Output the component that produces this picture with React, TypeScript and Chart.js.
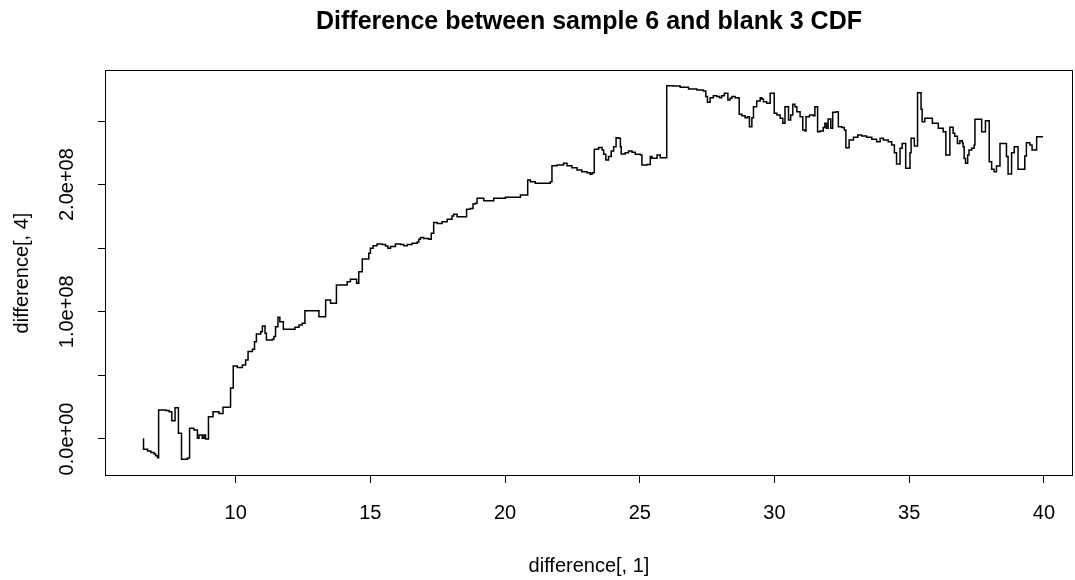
import React, { useEffect, useRef } from "react";
import { Chart, registerables } from "chart.js";

Chart.register(...registerables);

// x values (difference[, 1])
const xValues: number[] = [
  6.56, 6.58, 6.73, 6.85, 6.97, 7.03, 7.10, 7.14, 7.40, 7.53, 7.63, 7.75, 7.875, 7.99, 8.21, 8.29,
  8.45, 8.58, 8.64, 8.76, 8.82, 8.88, 8.99, 9.16, 9.38, 9.53, 9.81, 9.91, 10.06, 10.25, 10.37, 10.46,
  10.62, 10.70, 10.77, 10.93, 10.99, 11.09, 11.14, 11.36, 11.42, 11.48, 11.57, 11.64, 11.77, 12.20,
  12.35, 12.47, 12.57,
  13.09, 13.34, 13.52, 13.74, 14.14, 14.26, 14.49, 14.57, 14.70, 14.94, 15.0, 15.1, 15.25, 15.44,
  15.56, 15.65, 15.75, 15.93, 16.12, 16.24, 16.37, 16.55, 16.74, 16.80, 16.86, 16.98, 17.17, 17.26,
  17.35, 17.48, 17.66, 17.85, 18.03, 18.09, 18.22, 18.57, 18.71, 18.81, 18.90, 18.96, 19.08, 19.21,
  19.58, 20.01, 20.57, 20.84, 20.94, 21.12, 21.68, 21.74, 21.93, 22.17, 22.30, 22.48, 22.67, 22.85,
  23.04, 23.16, 23.23, 23.31, 23.47, 23.60, 23.66, 23.74, 23.84, 23.94, 24.03, 24.12, 24.21, 24.28,
  24.31, 24.46, 24.58, 24.71, 24.83, 25.02, 25.08, 25.27, 25.39, 25.45, 25.64, 25.76,
  26.0, 26.25, 26.50, 26.81, 27.12, 27.36, 27.45, 27.51, 27.61, 27.73, 27.86, 27.96, 28.04, 28.14,
  28.27, 28.35, 28.42, 28.54, 28.67, 28.69, 28.79, 28.91, 29.0, 29.07, 29.16, 29.22, 29.34, 29.47,
  29.53, 29.59, 29.71, 29.84, 29.99, 30.09, 30.21, 30.31, 30.39, 30.52, 30.60, 30.68, 30.76, 30.83,
  30.95, 31.05, 31.13, 31.17, 31.30, 31.44, 31.50, 31.60, 31.69, 31.81, 31.87, 31.93, 31.99, 32.09,
  32.16, 32.29, 32.37, 32.50, 32.59, 32.65,
  32.77, 32.93, 33.09, 33.24, 33.42, 33.61, 33.79, 33.92, 34.04, 34.22, 34.35, 34.45, 34.53, 34.66,
  34.74, 34.87, 35.03, 35.07, 35.19, 35.31, 35.44, 35.48, 35.58, 35.86, 36.08, 36.26, 36.36, 36.51,
  36.63, 36.69, 36.79, 36.88, 36.97, 37.0, 37.04, 37.09, 37.17, 37.22, 37.32, 37.41, 37.44, 37.69,
  37.83, 37.97, 38.06, 38.15, 38.24, 38.37, 38.61, 38.67, 38.80, 38.90, 39.04, 39.29, 39.35, 39.48,
  39.56, 39.73, 39.97,
];

// y values (difference[, 4]) in units of 1e8
const yValuesE8: number[] = [
  0.0, -0.081, -0.094, -0.107, -0.118, -0.131, -0.147, 0.228, 0.223, 0.215, 0.144, 0.246, 0.045, -0.16, -0.15, 0.084,
  0.07, 0.005, 0.031, 0.005, 0.031, 0.0, 0.175, 0.215, 0.20, 0.249, 0.40, 0.574, 0.563, 0.582, 0.621, 0.687,
  0.705, 0.765, 0.825, 0.844, 0.888, 0.831, 0.778, 0.784, 0.805, 0.883, 0.957, 0.922, 0.862, 0.878,
  0.896, 0.909, 1.009,
  0.962, 1.093, 1.067, 1.211, 1.237, 1.255, 1.224, 1.315, 1.415, 1.46, 1.499, 1.52, 1.533, 1.53,
  1.517, 1.499, 1.513, 1.533, 1.53, 1.52, 1.53, 1.538, 1.549, 1.57, 1.585, 1.577, 1.57, 1.617,
  1.703, 1.695, 1.708, 1.727, 1.753, 1.766, 1.748, 1.806, 1.813, 1.848, 1.853, 1.892, 1.892, 1.874,
  1.892, 1.90, 1.918, 2.036, 2.023, 2.01, 2.023, 2.149, 2.154, 2.167, 2.149, 2.133, 2.115, 2.102,
  2.094, 2.081, 2.094, 2.278, 2.291, 2.272, 2.238, 2.193, 2.22, 2.264, 2.298, 2.369, 2.364, 2.298,
  2.241, 2.251, 2.264, 2.254, 2.238, 2.233, 2.154, 2.159, 2.22, 2.207, 2.233, 2.212,
  2.778, 2.775, 2.765, 2.752, 2.744, 2.736, 2.692, 2.647, 2.683, 2.699, 2.692, 2.683, 2.699, 2.718,
  2.665, 2.678, 2.692, 2.683, 2.678, 2.553, 2.542, 2.526, 2.534, 2.455, 2.526, 2.612, 2.657, 2.683,
  2.673, 2.652, 2.639, 2.718, 2.561, 2.547, 2.521, 2.482, 2.612, 2.508, 2.547, 2.631, 2.612, 2.573,
  2.534, 2.43, 2.422, 2.534, 2.547, 2.542, 2.612, 2.416, 2.422, 2.448, 2.482, 2.443, 2.516, 2.443,
  2.568, 2.573, 2.455, 2.448, 2.43, 2.29,
  2.35, 2.372, 2.39, 2.382, 2.372, 2.356, 2.337, 2.364, 2.35, 2.337, 2.311, 2.251, 2.162, 2.285,
  2.324, 2.128, 2.251, 2.364, 2.303, 2.723, 2.592, 2.495, 2.521, 2.482, 2.443, 2.416, 2.233, 2.45,
  2.403, 2.38, 2.324, 2.345, 2.33, 2.298, 2.206, 2.167, 2.233, 2.272, 2.285, 2.311, 2.513, 2.416,
  2.502, 2.18, 2.12, 2.102, 2.146, 2.324, 2.22, 2.083, 2.251, 2.298, 2.12, 2.225, 2.33, 2.311,
  2.272, 2.377, 2.377,
];

const xTicks: number[] = [10, 15, 20, 25, 30, 35, 40];
const xTickLabels: string[] = ["10", "15", "20", "25", "30", "35", "40"];
const yTicks: number[] = [0, 0.5e8, 1e8, 1.5e8, 2e8, 2.5e8];
const yTickLabels: string[] = ["0.0e+00", "", "1.0e+08", "", "2.0e+08", ""];

const titleText = "Difference between sample 6 and blank 3 CDF";
const xAxisTitle = "difference[, 1]";
const yAxisTitle = "difference[, 4]";

const FONT = "'Liberation Sans', Arial, sans-serif";

const textPlugin = {
  id: "rtext",
  afterDraw(chart: any) {
    const ctx = chart.ctx as CanvasRenderingContext2D;
    const area = chart.chartArea;
    const xs = chart.scales.x;
    const ys = chart.scales.y;
    ctx.save();
    // box
    ctx.strokeStyle = "#000";
    ctx.lineWidth = 1;
    ctx.strokeRect(
      Math.round(area.left) + 0.5,
      Math.round(area.top) + 0.5,
      Math.round(area.right - area.left) - 1,
      Math.round(area.bottom - area.top) - 1
    );
    ctx.fillStyle = "#000";
    ctx.textAlign = "center";
    ctx.textBaseline = "middle";
    // title
    ctx.font = `bold 25px ${FONT}`;
    ctx.fillText(titleText, (area.left + area.right) / 2, 22);
    // x tick labels
    ctx.font = `20px ${FONT}`;
    xTicks.forEach((v, i) => {
      ctx.fillText(xTickLabels[i], xs.getPixelForValue(v), 513);
    });
    // x title
    ctx.fillText(xAxisTitle, (area.left + area.right) / 2, 566);
    // y tick labels (rotated)
    yTicks.forEach((v, i) => {
      if (!yTickLabels[i]) return;
      ctx.save();
      ctx.translate(67, ys.getPixelForValue(v));
      ctx.rotate(-Math.PI / 2);
      ctx.fillText(yTickLabels[i], 0, 0);
      ctx.restore();
    });
    // y title
    ctx.save();
    ctx.translate(22, (area.top + area.bottom) / 2);
    ctx.rotate(-Math.PI / 2);
    ctx.fillText(yAxisTitle, 0, 0);
    ctx.restore();
    ctx.restore();
  },
};

export default function App() {
  const canvasRef = useRef<HTMLCanvasElement | null>(null);

  useEffect(() => {
    if (!canvasRef.current) return;
    const points = xValues.map((x, i) => ({ x, y: yValuesE8[i] * 1e8 }));
    const chart = new Chart(canvasRef.current, {
      type: "line",
      data: {
        datasets: [
          {
            data: points,
            borderColor: "#000",
            borderWidth: 1.5,
            pointRadius: 0,
            stepped: true,
            fill: false,
            tension: 0,
          },
        ],
      },
      options: {
        animation: false,
        responsive: false,
        events: [],
        layout: { padding: { top: 70, right: 2, left: 0, bottom: 0 } },
        plugins: {
          legend: { display: false },
          title: { display: false },
          tooltip: { enabled: false },
        },
        scales: {
          x: {
            type: "linear",
            min: 5.15,
            max: 41.08,
            afterBuildTicks: (s: any) => {
              s.ticks = xTicks.map((v) => ({ value: v }));
            },
            afterFit: (s: any) => {
              s.height = 104;
            },
            grid: { drawOnChartArea: false, drawTicks: true, tickLength: 7, color: "#000" },
            border: { display: false },
            ticks: { display: false },
          },
          y: {
            type: "linear",
            min: -0.291e8,
            max: 2.901e8,
            afterBuildTicks: (s: any) => {
              s.ticks = yTicks.map((v) => ({ value: v }));
            },
            afterFit: (s: any) => {
              s.width = 105;
            },
            grid: { drawOnChartArea: false, drawTicks: true, tickLength: 7, color: "#000" },
            border: { display: false },
            ticks: { display: false },
          },
        },
      },
      plugins: [textPlugin],
    });
    return () => chart.destroy();
  }, []);

  return (
    <div style={{ position: "absolute", left: 0, top: 0, width: 1075, height: 580, background: "#fff" }}>
      <canvas ref={canvasRef} width={1075} height={580} style={{ display: "block" }} />
    </div>
  );
}
